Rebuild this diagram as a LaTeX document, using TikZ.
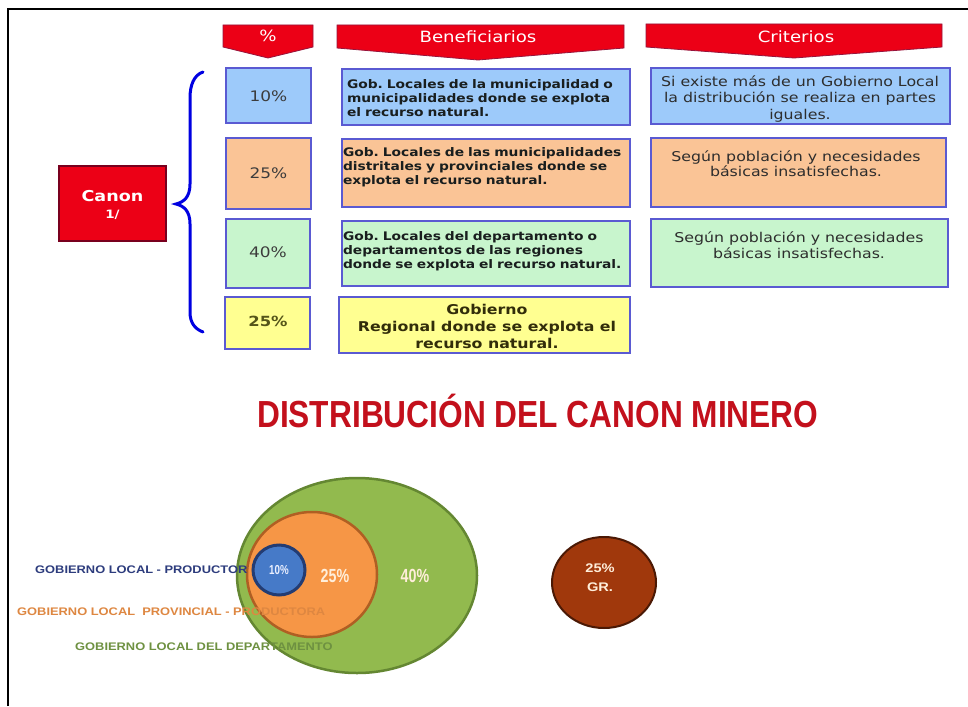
\documentclass[tikz,border=0pt]{standalone}
\usepackage{fontspec}
\setmainfont{DejaVu Sans}
\newfontfamily\tf[FakeStretch=1.17]{DejaVu Sans}
\newfontfamily\lf[FakeStretch=1.17]{Liberation Sans}
\newfontfamily\ttlf[FakeStretch=0.84]{Liberation Sans}
\newfontfamily\nf[FakeStretch=0.75]{Liberation Sans}
\usetikzlibrary{shapes.geometric}
\frenchspacing
\definecolor{hdrred}{RGB}{236,0,22}
\definecolor{hdrline}{RGB}{150,20,60}
\definecolor{canonline}{RGB}{120,0,30}
\definecolor{boxline}{RGB}{90,90,210}
\definecolor{cblue}{RGB}{157,202,250}
\definecolor{corange}{RGB}{250,196,150}
\definecolor{cgreen}{RGB}{200,245,205}
\definecolor{cyellow}{RGB}{255,255,145}
\definecolor{pcttext}{RGB}{60,60,60}
\definecolor{crittext}{RGB}{45,45,45}
\definecolor{bentext}{RGB}{25,30,30}
\definecolor{bracec}{RGB}{0,0,225}
\definecolor{titlered}{RGB}{195,16,28}
\definecolor{gfill}{RGB}{146,186,78}
\definecolor{gline}{RGB}{100,135,50}
\definecolor{ofill}{RGB}{246,150,70}
\definecolor{oline}{RGB}{175,95,35}
\definecolor{bfill}{RGB}{70,122,200}
\definecolor{bline}{RGB}{35,60,115}
\definecolor{rfill}{RGB}{160,56,12}
\definecolor{rline}{RGB}{75,25,5}
\definecolor{lblblue}{RGB}{45,60,125}
\definecolor{lblorange}{RGB}{222,135,65}
\definecolor{lblgreen}{RGB}{110,145,65}
\definecolor{cream}{RGB}{255,238,218}
\definecolor{pct4}{RGB}{85,85,25}
\definecolor{ben4}{RGB}{50,45,10}
\definecolor{ten}{RGB}{235,240,255}
\begin{document}
\begin{tikzpicture}[x=1pt,y=-1pt,
  box/.style={draw=boxline, line width=1.6, inner sep=0, outer sep=0},
  pct/.style={font=\tf\fontsize{14.5}{17}\selectfont, text=pcttext, inner sep=0},
  btxt/.style={font=\tf\bfseries\fontsize{11.8}{14}\selectfont, align=left, inner sep=0, text=bentext},
  ctxt/.style={font=\tf\fontsize{13.5}{16.5}\selectfont, align=center, inner sep=0, text=crittext},
  hdr/.style={fill=hdrred, draw=hdrline, line width=0.8},
  htxt/.style={font=\tf\fontsize{15.5}{18}\selectfont, text=white, inner sep=0},
  lbl/.style={font=\lf\bfseries\fontsize{11}{13}\selectfont, anchor=west, inner sep=0},
  circtxt/.style={font=\nf\bfseries\fontsize{19}{22}\selectfont, inner sep=0, text=cream},
  disc/.style={ellipse, inner sep=0, outer sep=0}]
\useasboundingbox (0,0) rectangle (968,706);
\fill[white] (0,0) rectangle (968,706);
% frame
\draw[line width=2] (8,706) -- (8,9) -- (968,9);
% headers
\filldraw[hdr] (223,25) -- (313,25) -- (313,47) -- (268,58) -- (223,47) -- cycle;
\filldraw[hdr] (337,25) -- (624,25) -- (624,48) -- (478,60) -- (337,48) -- cycle;
\filldraw[hdr] (646,24) -- (942,24) -- (942,47) -- (794,58) -- (646,47) -- cycle;
\node[htxt] (hp) at (268,36) {\%};
\node[htxt] (hb) at (478,37) {Beneficiarios};
\node[htxt] (hc) at (796,37) {Criterios};
% canon
\node[draw=canonline, fill=hdrred, line width=1.6, minimum width=107, minimum height=75, inner sep=0] (canon) at (112.5,203.5) {};
\node[font=\tf\bfseries\fontsize{15}{18}\selectfont, text=white, align=center, inner sep=0] (canontxt) at (112.5,205) {Canon\\[-1pt]{\fontsize{11.5}{13}\selectfont 1/}};
% brace
\draw[bracec, line width=3, line cap=round] (203,72) .. controls (194,75) and (190,85) .. (190,98) -- (190,184) .. controls (190,197) and (184,202) .. (176,204) .. controls (184,206) and (190,211) .. (190,224) -- (190,312) .. controls (190,323) and (195,329) .. (203,332);
% row boxes
\node[box, fill=cblue, minimum width=85, minimum height=55] (p1) at (268.5,95.5) {};
\node[box, fill=cblue, minimum width=288, minimum height=56] (b1) at (486,97) {};
\node[box, fill=cblue, minimum width=299, minimum height=56] (c1) at (800.5,96) {};
\node[box, fill=corange, minimum width=85, minimum height=71] (p2) at (268.5,173.5) {};
\node[box, fill=corange, minimum width=288, minimum height=68] (b2) at (486,173) {};
\node[box, fill=corange, minimum width=295, minimum height=69] (c2) at (798.5,172.5) {};
\node[box, fill=cgreen, minimum width=84, minimum height=69] (p3) at (268,253.5) {};
\node[box, fill=cgreen, minimum width=288, minimum height=65] (b3) at (486,253.5) {};
\node[box, fill=cgreen, minimum width=297, minimum height=68] (c3) at (799.5,253) {};
\node[box, fill=cyellow, minimum width=85, minimum height=52] (p4) at (267.5,323) {};
\node[box, fill=cyellow, minimum width=291, minimum height=56] (b4) at (484.5,325) {};
% percent texts
\node[pct] (pt1) at (268.5,96) {10\%};
\node[pct] (pt2) at (268.5,173) {25\%};
\node[pct] (pt3) at (268,252) {40\%};
\node[pct, font=\tf\bfseries\fontsize{14}{17}\selectfont, text=pct4] (pt4) at (268,321) {25\%};
% beneficiarios texts
\node[btxt, text width=270] (bt1) at (482,98.5) {\makebox[270pt][s]{Gob. Locales de la municipalidad o}\\\makebox[270pt][s]{municipalidades donde se explota}\\el recurso natural.};
\node[btxt, text width=285] (bt2) at (485.5,167) {\makebox[285pt][s]{Gob. Locales de las municipalidades}\\\makebox[285pt][s]{distritales y provinciales donde se}\\explota el recurso natural.};
\node[btxt, text width=282] (bt3) at (484,251.5) {\makebox[282pt][s]{Gob. Locales del departamento o}\\\makebox[282pt][s]{departamentos de las regiones}\\donde se explota el recurso natural.};
\node[btxt, align=center, font=\tf\bfseries\fontsize{13.5}{17}\selectfont, text=ben4] (bt4) at (487,326) {Gobierno\\Regional donde se explota el\\recurso natural.};
% criterios texts
\node[ctxt] (ct1) at (800,99) {Si existe más de un Gobierno Local\\la distribución se realiza en partes\\iguales.};
\node[ctxt, font=\tf\fontsize{13.5}{15.5}\selectfont] (ct2) at (796,163.5) {Según población y necesidades\\básicas insatisfechas.};
\node[ctxt, font=\tf\fontsize{13.5}{15.5}\selectfont] (ct3) at (799,245) {Según población y necesidades\\básicas insatisfechas.};
% title
\node[anchor=base west, inner sep=0, font=\ttlf\bfseries\fontsize{37.7}{40}\selectfont, text=titlered] (title) at (257,427) {DISTRIBUCIÓN DEL CANON MINERO};
% circles
\node[disc, draw=gline, fill=gfill, line width=2.5, minimum width=240, minimum height=195] (green) at (357,575.5) {};
\node[disc, draw=oline, fill=ofill, line width=2.5, minimum width=130, minimum height=125] (orange) at (312,574.5) {};
\node[disc, draw=bline, fill=bfill, line width=3, minimum width=52, minimum height=50] (blue) at (279,570) {};
\node[disc, draw=rline, fill=rfill, line width=2, minimum width=104, minimum height=91] (gr) at (604,582.5) {};
% labels
\node[lbl, text=lblblue] (l1) at (35,570) {GOBIERNO LOCAL - PRODUCTOR};
\node[lbl, text=lblorange] (l2) at (17,612) {GOBIERNO LOCAL~~PROVINCIAL - PRODUCTORA};
\node[lbl, text=lblgreen] (l3) at (75,647) {GOBIERNO LOCAL DEL DEPARTAMENTO};
% circle percentages
\node[circtxt, font=\nf\bfseries\fontsize{13}{15}\selectfont, text=ten] (t10) at (279,570) {10\%};
\node[circtxt] (t25) at (335,576) {25\%};
\node[circtxt] (t40) at (415,576) {40\%};
\node[font=\lf\bfseries\fontsize{12.5}{19}\selectfont, align=center, inner sep=0, text=cream] (tgr) at (600,578) {25\%\\GR.};
\end{tikzpicture}
\end{document}
